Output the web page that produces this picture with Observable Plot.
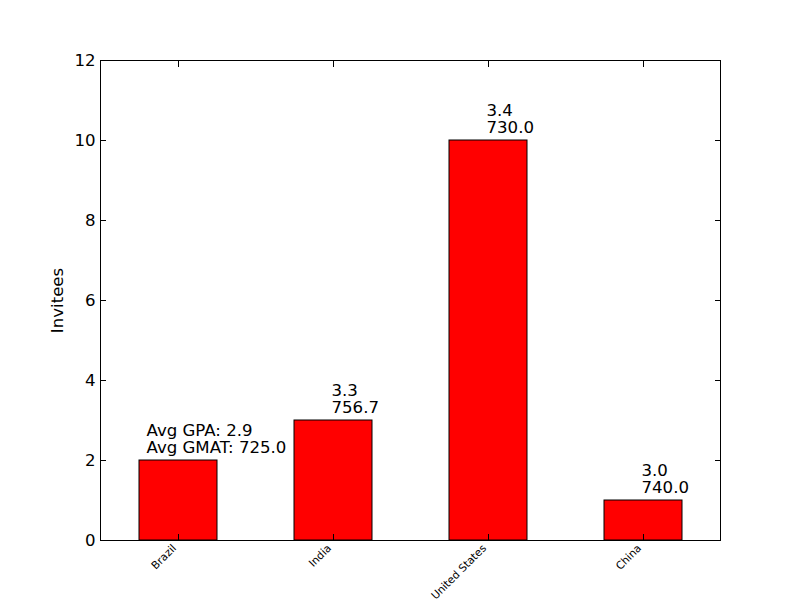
<!DOCTYPE html>
<html>
<head>
<meta charset="utf-8">
<script src="https://cdn.jsdelivr.net/npm/d3@7"></script>
<script src="https://cdn.jsdelivr.net/npm/@observablehq/plot@0.6"></script>
<style>
  html, body { margin: 0; padding: 0; background: #fff; }
  #chart { width: 800px; height: 600px; }
</style>
</head>
<body>
<div id="chart"></div>
<script>
const countries = ["Brazil", "India", "United States", "China"];
const invitees = [2, 3, 10, 1];
const avgGpa = ["2.9", "3.3", "3.4", "3.0"];
const avgGmat = ["725.0", "756.7", "730.0", "740.0"];
const yTicks = [0, 2, 4, 6, 8, 10, 12];

const data = countries.map((c, i) => ({
  country: c,
  invitees: invitees[i],
  label: i === 0
    ? `Avg GPA: ${avgGpa[i]}\nAvg GMAT: ${avgGmat[i]}`
    : `${avgGpa[i]}\n${avgGmat[i]}`
}));

const font = "DejaVu Sans, sans-serif";

const chart = Plot.plot({
  width: 800,
  height: 600,
  marginLeft: 100,
  marginRight: 80,
  marginTop: 60,
  marginBottom: 60,
  style: { fontFamily: font, background: "#fff", color: "#000" },
  x: { domain: countries, paddingInner: 0.5, paddingOuter: 0.25 },
  y: { domain: [0, 12] },
  marks: [
    Plot.barY(data, { x: "country", y: "invitees", fill: "red", stroke: "black", strokeWidth: 1 }),
    Plot.text(data.filter((d, i) => i === 0), {
      x: "country", y: "invitees", text: "label",
      textAnchor: "start", lineAnchor: "bottom", lineHeight: 1.0,
      dx: -32, dy: -8, fontSize: 16.6, fill: "black"
    }),
    Plot.text(data.filter((d, i) => i !== 0), {
      x: "country", y: "invitees", text: "label",
      textAnchor: "start", lineAnchor: "bottom", lineHeight: 1.0,
      dx: -2, dy: -8, fontSize: 16.6, fill: "black"
    }),
    Plot.axisY({ anchor: "left", ticks: yTicks, tickSize: -6, tickPadding: 11, fontSize: 16.6,
      label: "Invitees", labelAnchor: "center", labelArrow: "none", labelOffset: 49 }),
    Plot.axisY({ anchor: "right", ticks: yTicks, tickSize: -6, tickFormat: () => "", label: null }),
    Plot.axisX({ anchor: "bottom", tickSize: -6, tickFormat: () => "", label: null }),
    Plot.axisX({ anchor: "top", tickSize: -6, tickFormat: () => "", label: null }),
    Plot.text(countries, {
      x: d => d, frameAnchor: "bottom", text: d => d,
      rotate: -45, textAnchor: "end", lineAnchor: "top",
      dx: -7, dy: 3, fontSize: 10.7, fill: "black"
    }),
    Plot.frame({ stroke: "black", strokeWidth: 1 })
  ]
});

document.getElementById("chart").appendChild(chart);
</script>
</body>
</html>
